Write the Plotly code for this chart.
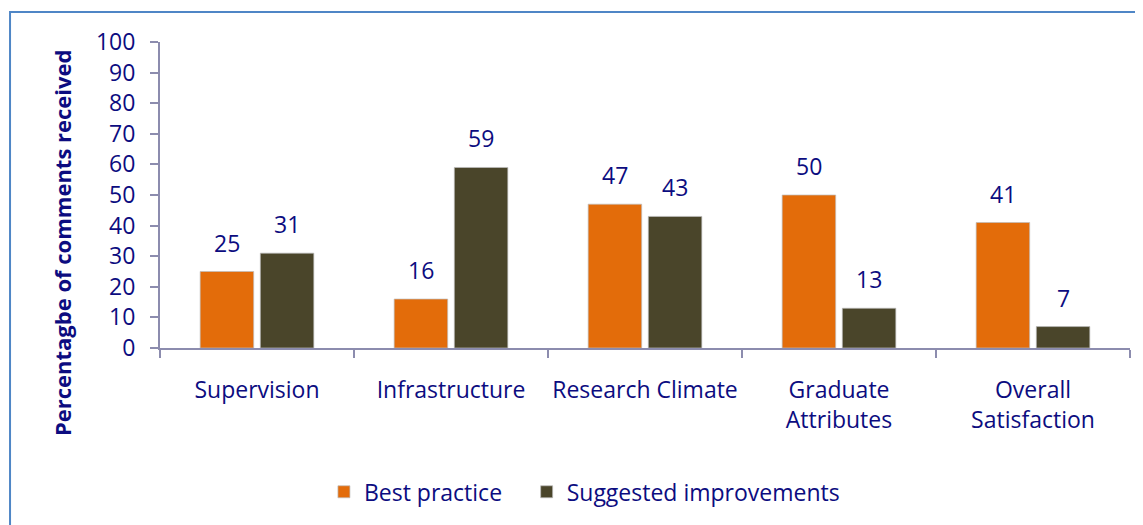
import plotly.graph_objects as go

categories = ["Supervision", "Infrastructure", "Research Climate", "Graduate<br>Attributes", "Overall<br>Satisfaction"]
best_practice = [25, 16, 47, 50, 41]
suggested = [31, 59, 43, 13, 7]
series_names = ["Best practice", "Suggested improvements"]
colors = ["#E36C0A", "#4A452A"]
navy = "#0C0C80"
axis_col = "#8C8CAE"
FONT = "Open Sans"
FS = 23

fig = go.Figure()
for i, (name, vals, col) in enumerate(zip(series_names, [best_practice, suggested], colors)):
    fig.add_trace(go.Bar(
        name=name, x=categories, y=vals, legend="legend" if i == 0 else "legend2",
        marker=dict(color=col, line=dict(color="rgba(190,190,190,0.7)", width=1)),
    ))

# value labels
offsets = [-30, 30]
for vals, off in zip([best_practice, suggested], offsets):
    for c, v in zip(categories, vals):
        fig.add_annotation(x=c, y=v, text=str(v), showarrow=False, xshift=off,
                           yanchor="bottom", yshift=11,
                           font=dict(family=FONT, size=FS, color=navy))

# y-axis title (centred on chart area, like the original)
fig.add_annotation(xref="paper", yref="paper", x=-0.101, y=0.343, textangle=-90,
                   text="<b>Percentagbe of comments received</b>", showarrow=False,
                   xanchor="center", yanchor="middle",
                   font=dict(family=FONT, size=22, color=navy))

leg_common = dict(orientation="h", xanchor="left", y=-0.47, yanchor="middle",
                  font=dict(family=FONT, size=FS, color=navy), itemwidth=30,
                  bgcolor="rgba(0,0,0,0)")

# page has an 8px body margin, so the figure is offset by 8px
fig.update_layout(
    width=1135, height=517,
    margin=dict(l=152, r=13, t=34, b=177, autoexpand=False),
    paper_bgcolor="white", plot_bgcolor="white",
    barmode="group", bargap=0.38, bargroupgap=0.11,
    font=dict(family=FONT, size=FS, color=navy),
    showlegend=True,
    legend=dict(x=0.169, **leg_common),
    legend2=dict(x=0.378, **leg_common),
    xaxis=dict(showline=True, linecolor=axis_col, linewidth=2, ticks="outside",
               tickson="boundaries", ticklen=8, tickcolor=axis_col, tickwidth=2,
               ticklabelstandoff=20, tickangle=0,
               tickfont=dict(family=FONT, size=FS, color=navy), showgrid=False),
    yaxis=dict(range=[0, 100], dtick=10, showline=True, linecolor=axis_col, linewidth=2,
               ticks="outside", ticklen=8, tickcolor=axis_col, tickwidth=2, showgrid=False,
               ticklabelstandoff=10,
               zeroline=False, tickfont=dict(family=FONT, size=FS, color=navy)),
    shapes=[dict(type="rect", xref="paper", yref="paper", x0=-0.1546, x1=1.2, y0=-0.8, y1=1.098,
                 line=dict(color="#4F86C6", width=2), fillcolor="rgba(0,0,0,0)", layer="below")],
)

fig.write_html("out.html")
